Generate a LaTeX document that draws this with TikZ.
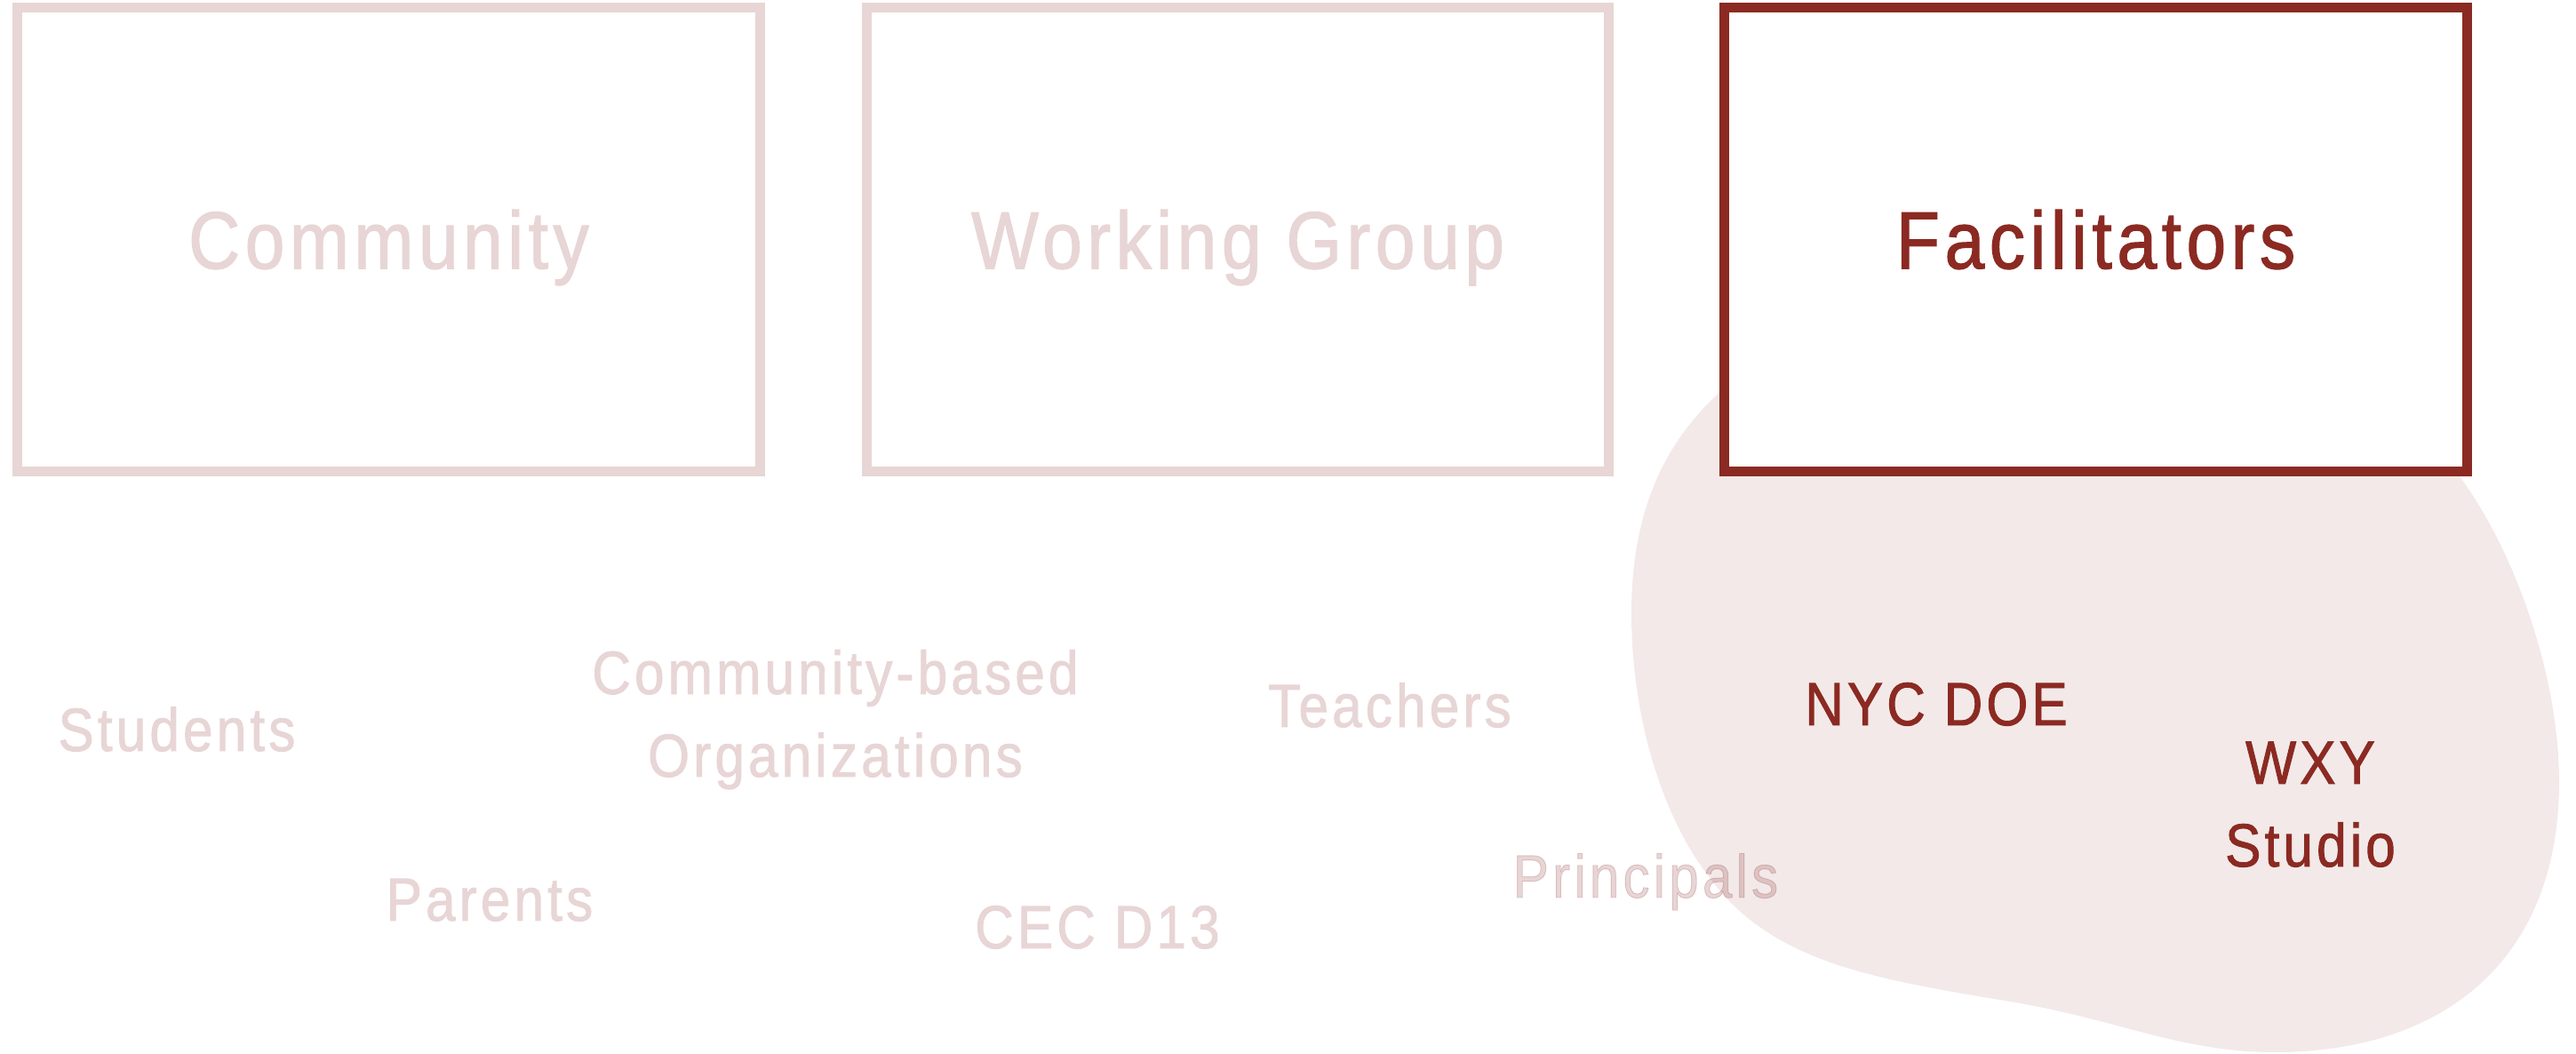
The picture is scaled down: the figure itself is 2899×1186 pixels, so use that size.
\documentclass[tikz,border=0pt]{standalone}
\usepackage{fontspec}
\setmainfont{Liberation Sans}[FakeStretch=0.88,LetterSpace=6,FakeBold=1.3]
\usepackage{xcolor}
\usetikzlibrary{positioning}
\definecolor{paleRose}{HTML}{E8D5D5}
\definecolor{deepRed}{HTML}{8B2A22}
\definecolor{blobPink}{HTML}{F3E9E9}
\tikzset{
  group/.style={draw=paleRose,line width=3.1pt,fill=white,outer sep=0pt,inner sep=0pt,
    minimum width=8.35cm,minimum height=5.22cm,text height=18.6pt,text depth=0pt,
    font=\fontsize{26}{31}\selectfont,text=paleRose},
  lead/.style={group,draw=deepRed,text=deepRed},
  member/.style={anchor=base,align=center,inner sep=0pt,
    font=\fontsize{19.5}{26.5}\selectfont,text=paleRose},
  facil/.style={member,text=deepRed}
}

\begin{document}
\begin{tikzpicture}[x=0.01cm,y=-0.01cm]
  \useasboundingbox (0,0) rectangle (2899,1186);

  % Blob
  \fill[blobPink] (1937,440) .. controls (1870,500) and (1836,580) .. (1836,690)
    .. controls (1836,810) and (1872,920) .. (1922,985)
    .. controls (1990,1080) and (2100,1100) .. (2250,1125)
    .. controls (2380,1145) and (2450,1184) .. (2560,1184)
    .. controls (2750,1184) and (2880,1080) .. (2880,880)
    .. controls (2880,760) and (2830,620) .. (2768,536)
    -- (2768,300) -- (1937,300) -- cycle;

  % Boxes
  \node[group] (comm) at (437.5,269.5) {Community};
  \node[group,right=1.2cm of comm] (wgroup) {Working Group};
  \node[lead,right=1.3cm of wgroup] (facil) {Facilitators};

  % Labels
  \node[member] (students) at (199,845) {Students};
  \node[member] (cbo) at (940,874) {Community-based\\Organizations};
  \node[member] (parents) at (551,1036) {Parents};
  \node[member] (cec) at (1235,1067) {CEC D13};
  \node[member] (teachers) at (1564,818) {Teachers};
  \begin{scope}[blend mode=multiply]
    \node[member] (principals) at (1852,1010) {Principals};
  \end{scope}
  \node[facil] (doe) at (2179,816) {NYC DOE};
  \node[facil] (wxy) at (2600,975) {WXY\\Studio};
\end{tikzpicture}
\end{document}
